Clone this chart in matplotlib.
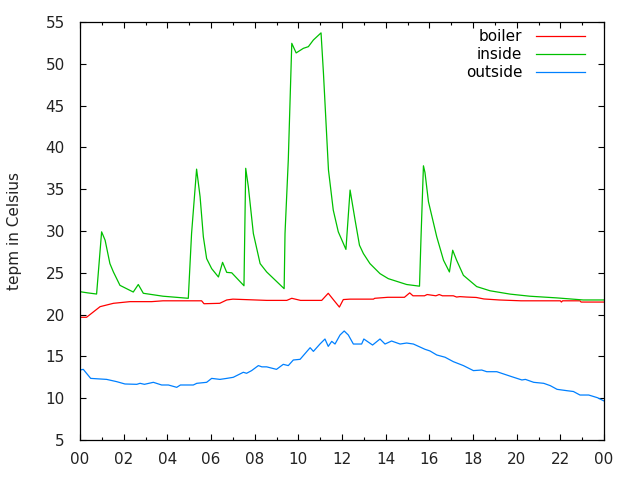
import matplotlib
matplotlib.use("Agg")
import matplotlib.pyplot as plt
from matplotlib.ticker import MultipleLocator, FuncFormatter

# hours of day
boiler_h = [0, 0.3, 0.92, 1.53, 2.29, 3.28, 3.8, 5.57, 5.68, 6.4, 6.72, 7.0, 8.55, 9.47, 9.7,
            10.1, 11.07, 11.37, 11.6, 11.88, 12.06, 12.37, 13.44, 13.5, 14.1, 14.86, 15.1, 15.25,
            15.78, 15.9, 16.3, 16.45, 16.6, 17.1, 17.25, 17.4, 17.7, 18.15, 18.5, 19.2, 20.2,
            22.0, 22.05, 22.1, 22.9, 22.95, 24]
boiler = [19.68, 19.68, 20.95, 21.35, 21.55, 21.55, 21.65, 21.65, 21.3, 21.35, 21.75, 21.85,
          21.7, 21.7, 21.95, 21.7, 21.7, 22.55, 21.8, 20.9, 21.8, 21.85, 21.85, 21.95, 22.07,
          22.07, 22.6, 22.25, 22.25, 22.4, 22.25, 22.4, 22.25, 22.25, 22.1, 22.15, 22.1, 22.05,
          21.87, 21.75, 21.65, 21.65, 21.5, 21.65, 21.65, 21.5, 21.5]

inside_h = [0, 0.35, 0.76, 0.99, 1.15, 1.37, 1.53, 1.83, 2.44, 2.67, 2.9, 3.8, 4.96, 5.11, 5.34,
            5.5, 5.65, 5.8, 6.03, 6.34, 6.53, 6.72, 6.95, 7.51, 7.59, 7.71, 7.94, 8.25, 8.55,
            9.35, 9.39, 9.54, 9.7, 9.9, 10.23, 10.46, 10.69, 11.04, 11.15, 11.38, 11.6, 11.83,
            12.18, 12.37, 12.6, 12.8, 12.98, 13.28, 13.74, 14.12, 14.96, 15.55, 15.62, 15.73,
            15.8, 15.96, 16.34, 16.65, 16.92, 17.07, 17.25, 17.56, 18.17, 18.78, 19.7, 20.6,
            21.83, 23.05, 24]
inside = [22.74, 22.6, 22.46, 29.9, 28.9, 26.1, 25.1, 23.5, 22.7, 23.6, 22.55, 22.2, 21.95,
          29.7, 37.4, 34.1, 29.3, 26.7, 25.5, 24.5, 26.25, 25.05, 25.0, 23.45, 37.5, 35.3, 29.7,
          26.1, 25.1, 23.1, 29.7, 38.5, 52.45, 51.3, 51.85, 52.05, 52.85, 53.7, 48.9, 37.3,
          32.5, 29.9, 27.8, 34.9, 31.3, 28.3, 27.3, 26.1, 24.9, 24.3, 23.6, 23.4, 29.3, 37.8,
          37.0, 33.5, 29.3, 26.5, 25.1, 27.7, 26.5, 24.7, 23.35, 22.85, 22.45, 22.2, 22.0,
          21.75, 21.75]

outside_h = [0, 0.15, 0.49, 1.22, 1.68, 2.06, 2.6, 2.75, 2.95, 3.36, 3.74, 4.05, 4.43, 4.6,
             5.19, 5.35, 5.8, 6.03, 6.41, 6.72, 7.02, 7.48, 7.63, 7.86, 8.17, 8.33, 8.55, 9.0,
             9.31, 9.54, 9.77, 10.08, 10.54, 10.69, 10.99, 11.22, 11.37, 11.53, 11.68, 11.91,
             12.1, 12.29, 12.52, 12.9, 13.0, 13.4, 13.74, 13.97, 14.27, 14.66, 14.96, 15.27,
             15.8, 16.03, 16.34, 16.72, 17.1, 17.56, 18.02, 18.4, 18.63, 19.09, 19.4, 19.78,
             20.24, 20.4, 20.78, 21.24, 21.54, 21.85, 22.3, 22.6, 22.9, 23.3, 23.7, 24]
outside = [13.37, 13.45, 12.37, 12.25, 11.98, 11.7, 11.66, 11.78, 11.66, 11.9, 11.58, 11.58,
           11.3, 11.58, 11.58, 11.78, 11.9, 12.37, 12.25, 12.37, 12.5, 13.1, 12.98, 13.3, 13.9,
           13.75, 13.75, 13.45, 14.05, 13.9, 14.57, 14.65, 16.04, 15.6, 16.48, 17.08, 16.2,
           16.8, 16.48, 17.56, 18.04, 17.56, 16.48, 16.48, 17.08, 16.36, 17.08, 16.48, 16.84,
           16.48, 16.6, 16.48, 15.85, 15.65, 15.17, 14.9, 14.37, 13.9, 13.3, 13.37, 13.17,
           13.17, 12.9, 12.57, 12.18, 12.25, 11.9, 11.78, 11.5, 11.06, 10.9, 10.8, 10.38,
           10.38, 10.06, 9.67]

plt.rcParams['font.family'] = ['DejaVu Sans']
fig = plt.figure(figsize=(6.4, 4.8), dpi=100)
ax = fig.add_axes([80/640, 40/480, 524/640, 418/480])

lw = 0.9
ax.plot(boiler_h, boiler, color='#ff0000', lw=lw, label='boiler')
ax.plot(inside_h, inside, color='#00c000', lw=lw, label='inside')
ax.plot(outside_h, outside, color='#0080ff', lw=lw, label='outside')

ax.set_xlim(0, 24)
ax.set_ylim(5, 55)
ax.xaxis.set_major_locator(MultipleLocator(2))
ax.xaxis.set_minor_locator(MultipleLocator(1))
ax.yaxis.set_major_locator(MultipleLocator(5))
ax.xaxis.set_major_formatter(FuncFormatter(lambda v, p: "%02d" % (int(round(v)) % 24)))
ax.tick_params(which='both', direction='in', top=True, right=True, colors='black',
               labelsize=11, labelcolor='#222222')
ax.tick_params(which='major', length=4.3, width=0.8)
ax.tick_params(which='minor', length=2.2, width=0.8)
ax.tick_params(axis='x', pad=8.5)
ax.tick_params(axis='y', pad=11)
for s in ax.spines.values():
    s.set_linewidth(0.9)

ax.set_ylabel('tepm in Celsius', fontsize=11, color='#222222')
ax.yaxis.set_label_coords(-0.111, 0.5)

ax.legend(loc='upper right', bbox_to_anchor=(0.975, 0.998), frameon=False,
          markerfirst=False, fontsize=11, handlelength=3.2, handletextpad=0.9,
          borderaxespad=0.0, labelspacing=0.2, borderpad=0.4)

fig.savefig('out.png', dpi=100)
